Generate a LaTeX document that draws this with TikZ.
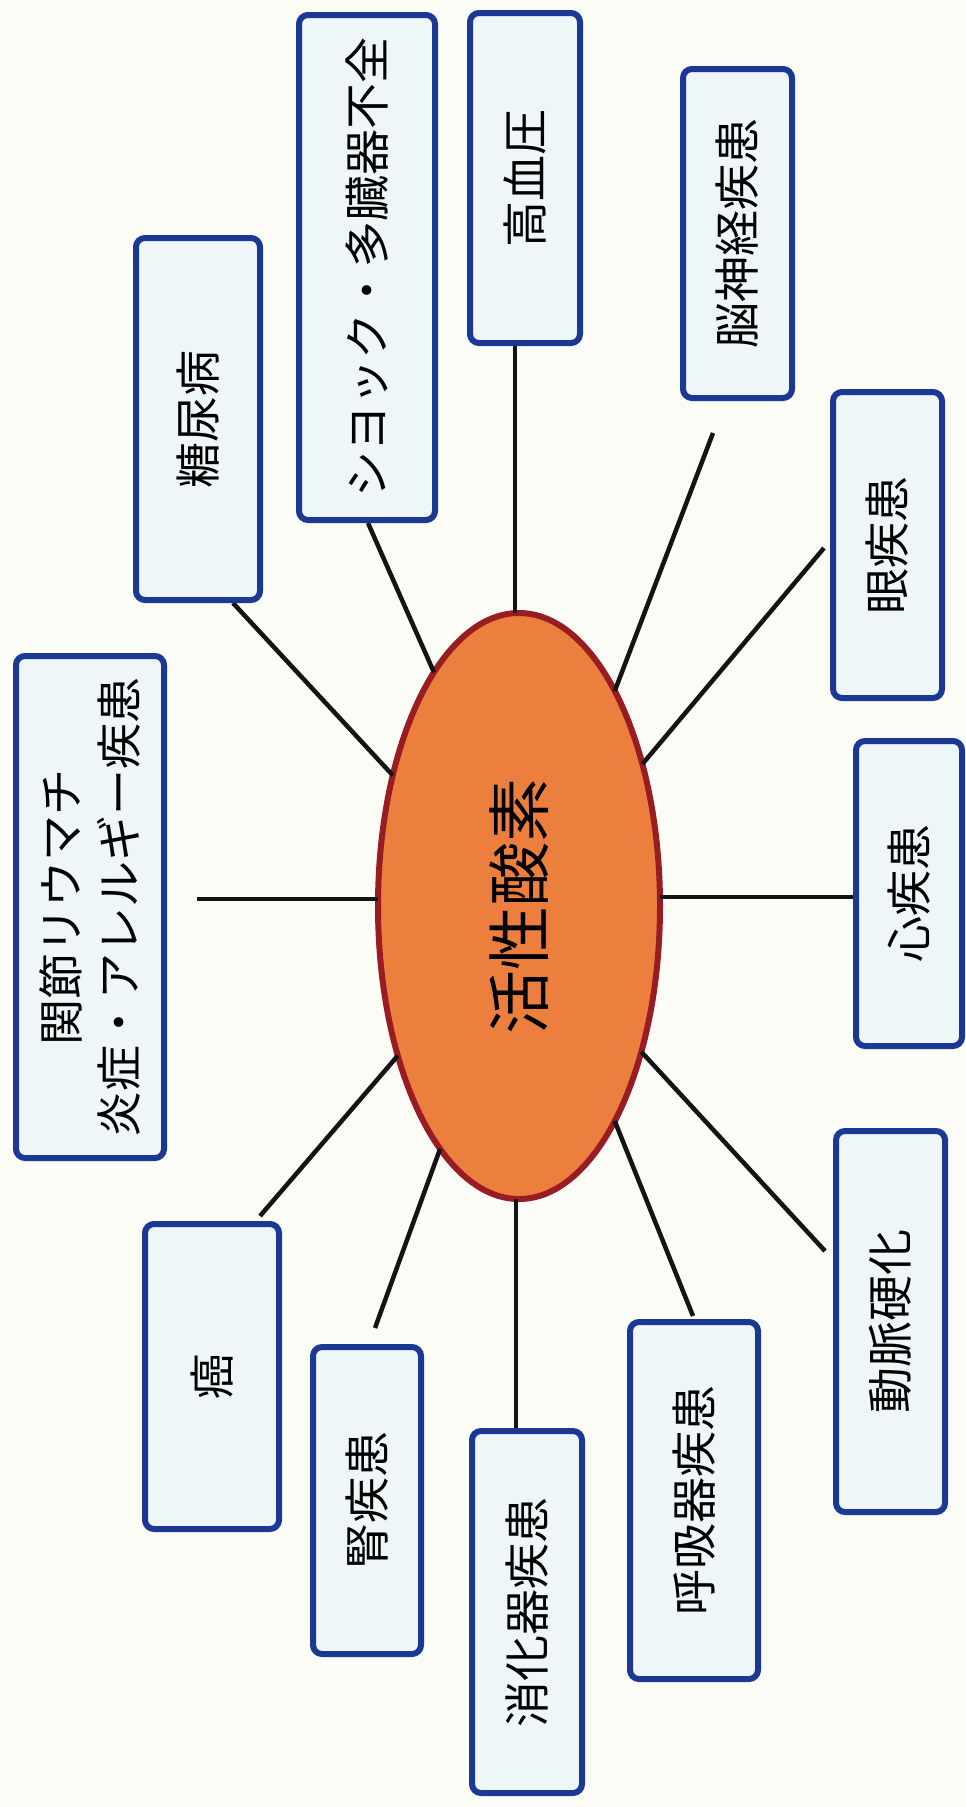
\documentclass[tikz,border=0pt]{standalone}
\usepackage{fontspec}
\usepackage{graphicx}
\usetikzlibrary{shapes.geometric}
\setmainfont{Noto Sans CJK JP}
\definecolor{boxblue}{RGB}{26,56,148}
\definecolor{boxfill}{RGB}{238,246,248}
\definecolor{roscol}{RGB}{237,127,62}
\definecolor{rosborder}{RGB}{152,28,34}
\definecolor{bgcol}{RGB}{252,252,247}
\definecolor{linecol}{RGB}{20,20,20}
\begin{document}
\begin{tikzpicture}[x=1pt,y=-1pt,
  dbox/.style={draw=boxblue,line width=6pt,fill=boxfill,rounded corners=9pt,rotate=90,
               inner sep=0pt,align=center,font=\fontsize{46}{58}\selectfont},
  link/.style={line width=4.5pt,draw=linecol}]
\fill[bgcol] (0,0) rectangle (966,1807);
\useasboundingbox (0,0) rectangle (966,1807);

% free ends of the connectors
\coordinate (c-tou) at (233,603);
\coordinate (c-shock) at (368,523);
\coordinate (c-kou) at (515,346);
\coordinate (c-nou) at (713,433);
\coordinate (c-me) at (824,548);
\coordinate (c-shin) at (853,897);
\coordinate (c-dou) at (825,1251);
\coordinate (c-kokyu) at (693,1316);
\coordinate (c-shou) at (516,1428);
\coordinate (c-jin) at (375,1328);
\coordinate (c-gan) at (260,1216);
\coordinate (c-kan) at (197,899);

% centre
\node[ellipse,draw=rosborder,line width=6pt,fill=roscol,minimum width=282pt,minimum height=586pt,
      inner sep=0pt,outer sep=0pt,font=\fontsize{64}{70}\selectfont] (ros) at (519,906)
      {\rotatebox{90}{活性酸素}};

% connectors
\draw[link] (c-tou) -- (ros.134.8);
\draw[link] (c-shock) -- (ros.110.9);
\draw[link] (c-kou) -- (c-kou |- ros.north);
\draw[link] (c-nou) -- (ros.66.2);
\draw[link] (c-me) -- (ros.49.7);
\draw[link] (c-shin) -- (c-shin -| ros.east);
\draw[link] (c-dou) -- (ros.-50);
\draw[link] (c-kokyu) -- (ros.-66);
\draw[link] (c-shou) -- (c-shou |- ros.south);
\draw[link] (c-jin) -- (ros.-108);
\draw[link] (c-gan) -- (ros.-129.5);
\draw[link] (c-kan) -- (c-kan -| ros.west);

% boxes
\node[dbox,minimum width=362pt,minimum height=124pt] (tou) at (198,419) {糖尿病};
\node[dbox,minimum width=505pt,minimum height=136pt] (shock) at (367,267.5) {シヨック・多臓器不全};
\node[dbox,minimum width=330pt,minimum height=110pt] (kou) at (525,178) {高血圧};
\node[dbox,minimum width=329pt,minimum height=109pt] (nou) at (737.5,233.5) {脳神経疾患};
\node[dbox,minimum width=306pt,minimum height=109pt] (me) at (887.5,545) {眼疾患};
\node[dbox,minimum width=305pt,minimum height=106pt] (shin) at (909,893.5) {心疾患};
\node[dbox,minimum width=381pt,minimum height=109pt] (dou) at (890.5,1321.5) {動脈硬化};
\node[dbox,minimum width=357pt,minimum height=128pt] (kokyu) at (694,1500.5) {呼吸器疾患};
\node[dbox,minimum width=362pt,minimum height=110pt] (shou) at (527,1612) {消化器疾患};
\node[dbox,minimum width=307pt,minimum height=108pt] (jin) at (367,1500.5) {腎疾患};
\node[dbox,minimum width=305pt,minimum height=134pt] (gan) at (212,1376.5) {癌};
\node[dbox,minimum width=502pt,minimum height=148pt] (kan) at (90,907) {関節リウマチ\\炎症・アレルギー疾患};
\end{tikzpicture}
\end{document}
